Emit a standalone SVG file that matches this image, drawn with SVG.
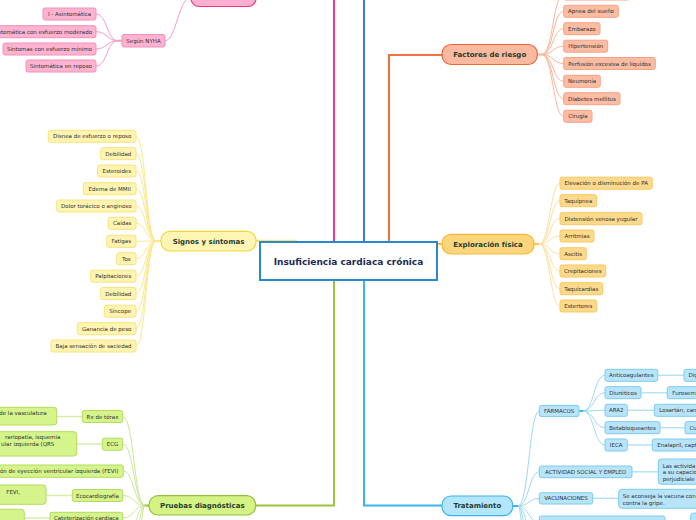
<svg xmlns="http://www.w3.org/2000/svg" width="696" height="520" viewBox="0 0 696 520">
<style>
.s{font-family:"DejaVu Sans",sans-serif;font-size:5.5px;fill:#2e2e2e}
.c{text-anchor:middle}
.m{font-family:"DejaVu Sans",sans-serif;font-weight:bold;font-size:7px;fill:#1e3d2f;text-anchor:middle}
.t{font-family:"DejaVu Sans",sans-serif;font-weight:bold;font-size:9px;fill:#1c2a55;text-anchor:middle}
.pk{fill:#ffb3d1;stroke:#f28fbd;stroke-width:1}
.sa{fill:#fbbca4;stroke:#f7a283;stroke-width:1}
.ye{fill:#fff5b0;stroke:#fbe27e;stroke-width:1}
.or{fill:#fdd98c;stroke:#fbc75e;stroke-width:1}
.bl{fill:#b8e4fa;stroke:#7dcbf0;stroke-width:1}
.gr{fill:#d5f48c;stroke:#b2dc5a;stroke-width:1}
.lk{fill:none;stroke-width:1}
</style>
<rect width="696" height="520" fill="#ffffff"/>
<g id="connectors" fill="none">
  <path d="M334 242 V0" stroke="#f0388a" stroke-width="2"/>
  <path d="M364 242 V0" stroke="#3a7fd5" stroke-width="2"/>
  <path d="M389 242 V55 H442" stroke="#f07040" stroke-width="2"/>
  <path d="M256 240.8 H297" stroke="#fbe27a" stroke-width="2"/>
  <path d="M437 244 H442" stroke="#f6b93b" stroke-width="2"/>
  <path d="M334 280 V505.5 H256" stroke="#9ac43a" stroke-width="2"/>
  <path d="M364 280 V505.5 H442" stroke="#3ab4ea" stroke-width="2"/>
  <g stroke="#f79ac6" class="lk">
    <path d="M165 40.7 C176 40.7 178 0 191 -4"/>
    <path d="M122 40.7 H117" stroke-width="2"/>
    <path d="M118 40.7 C107 40.7 107 14 96 14"/>
    <path d="M118 40.7 C107 40.7 107 31.7 96 31.7"/>
    <path d="M118 40.7 C107 40.7 107 49 96 49"/>
    <path d="M118 40.7 C107 40.7 107 66 96 66"/>
  </g>
  <g stroke="#fbe88e" class="lk">
    <path d="M161 241 H155" stroke-width="2"/>
    <path d="M156 241 C146 241 146 136.3 136 136.3"/>
    <path d="M156 241 C146 241 146 153.7 136 153.7"/>
    <path d="M156 241 C146 241 146 171 136 171"/>
    <path d="M156 241 C146 241 146 188.7 136 188.7"/>
    <path d="M156 241 C146 241 146 206 136 206"/>
    <path d="M156 241 C146 241 146 223.3 136 223.3"/>
    <path d="M156 241 C146 241 146 241.3 136 241.3"/>
    <path d="M156 241 C146 241 146 258.7 136 258.7"/>
    <path d="M156 241 C146 241 146 276.2 136 276.2"/>
    <path d="M156 241 C146 241 146 293.5 136 293.5"/>
    <path d="M156 241 C146 241 146 311.2 136 311.2"/>
    <path d="M156 241 C146 241 146 328.7 136 328.7"/>
    <path d="M156 241 C146 241 146 346 136 346"/>
  </g>
  <g stroke="#fbb59b" class="lk">
    <path d="M537 54.5 H543" stroke-width="2"/>
    <path d="M542 54.5 C553 54.5 553 -6 563.7 -6"/>
    <path d="M542 54.5 C553 54.5 553 11.3 563.7 11.3"/>
    <path d="M542 54.5 C553 54.5 553 28.7 563.7 28.7"/>
    <path d="M542 54.5 C553 54.5 553 46.2 563.7 46.2"/>
    <path d="M542 54.5 C553 54.5 553 63.5 563.7 63.5"/>
    <path d="M542 54.5 C553 54.5 553 81.3 563.7 81.3"/>
    <path d="M542 54.5 C553 54.5 553 98.7 563.7 98.7"/>
    <path d="M542 54.5 C553 54.5 553 116.3 563.7 116.3"/>
  </g>
  <g stroke="#fde1a0" class="lk">
    <path d="M534 244 H540" stroke-width="2" stroke="#fbc75e"/>
    <path d="M539 244 C550 244 550 183.2 560 183.2"/>
    <path d="M539 244 C550 244 550 200.7 560 200.7"/>
    <path d="M539 244 C550 244 550 218.7 560 218.7"/>
    <path d="M539 244 C550 244 550 236 560 236"/>
    <path d="M539 244 C550 244 550 253.7 560 253.7"/>
    <path d="M539 244 C550 244 550 271 560 271"/>
    <path d="M539 244 C550 244 550 288.7 560 288.7"/>
    <path d="M539 244 C550 244 550 306 560 306"/>
  </g>
  <g stroke="#9fd8f4" class="lk">
    <path d="M512.7 506 H519" stroke-width="2" stroke="#3ab4ea"/>
    <path d="M518 506 C529 506 529 411 539.3 411"/>
    <path d="M518 506 C529 506 529 471.8 539.3 471.8"/>
    <path d="M518 506 C529 506 529 498.3 539.3 498.3"/>
    <path d="M518 506 C529 506 529 523 539.3 523"/>
    <path d="M518 506 C527 506 527 545 539.3 545"/>
    <path d="M518 506 C525 506 525 570 539.3 570"/>
    <path d="M518 506 C523 506 523 600 539.3 600"/>
    <path d="M579 411 H584" stroke-width="2" stroke="#3ab4ea"/>
    <path d="M583 411 C594 411 594 375.3 605 375.3"/>
    <path d="M583 411 C594 411 594 392.7 605 392.7"/>
    <path d="M583 411 C594 411 594 410.3 605 410.3"/>
    <path d="M583 411 C594 411 594 427.7 605 427.7"/>
    <path d="M583 411 C594 411 594 445 605 445"/>
    <path d="M657.7 375.3 H684" stroke-width="1.5" stroke="#b6e2f8"/>
    <path d="M641 392.7 H667.3" stroke-width="1.5" stroke="#b6e2f8"/>
    <path d="M627.3 410.3 H654.3" stroke-width="1.5" stroke="#b6e2f8"/>
    <path d="M660 427.7 H685" stroke-width="1.5" stroke="#b6e2f8"/>
    <path d="M627.3 445 H652.3" stroke-width="1.5" stroke="#b6e2f8"/>
    <path d="M632 471.8 H658.3" stroke-width="1.5" stroke="#b6e2f8"/>
    <path d="M592.7 498.3 H618.7" stroke-width="1.5" stroke="#b6e2f8"/>
  </g>
  <g stroke="#cce69a" class="lk">
    <path d="M149 505.5 H144" stroke-width="2" stroke="#9ac43a"/>
    <path d="M145 505.5 C134 505.5 134 416.5 122.7 416.5"/>
    <path d="M145 505.5 C134 505.5 134 444 122.7 444"/>
    <path d="M145 505.5 C134 505.5 134 471 123.3 471"/>
    <path d="M145 505.5 C134 505.5 134 495.5 122.7 495.5"/>
    <path d="M145 505.5 C134 505.5 134 518 122.7 518"/>
    <path d="M145 505.5 C136 505.5 136 540 122.7 540"/>
    <path d="M145 505.5 C138 505.5 138 565 122.7 565"/>
    <path d="M145 505.5 C140 505.5 140 595 122.7 595"/>
    <path d="M82.3 416.5 H56.7" stroke-width="1.5" stroke="#d8ecaa"/>
    <path d="M102.3 444 H76.7" stroke-width="1.5" stroke="#d8ecaa"/>
    <path d="M72.3 495.5 H46" stroke-width="1.5" stroke="#d8ecaa"/>
    <path d="M50 518 H24.3" stroke-width="1.5" stroke="#d8ecaa"/>
  </g>
</g>
<g id="center">
  <rect x="260" y="242" width="177" height="38" fill="#ffffff" stroke="#2a88cf" stroke-width="2"/>
  <text class="t" x="348.5" y="265">Insuficiencia cardiaca crónica</text>
</g>
<g id="pink-branch">
  <rect x="191" y="-14" width="65" height="20.5" rx="8" fill="#ffb0d0" stroke="#f0388a" stroke-width="1.2"/>
  <g id="segun-nyha"><rect class="pk" x="122" y="34.5" width="43" height="12.5" rx="2"/><text class="s c" x="143.5" y="42.7">Según NYHA</text></g>
  <g id="nyha-1"><rect class="pk" x="43" y="8" width="53" height="12" rx="2"/><text class="s c" x="69.5" y="16">I - Asintomática</text></g>
  <g id="nyha-2"><rect class="pk" x="-14" y="25.7" width="110" height="12" rx="2"/><text class="s" x="92" y="33.7" text-anchor="end">Sintomática con esfuerzo moderado</text></g>
  <g id="nyha-3"><rect class="pk" x="3" y="43" width="93" height="12" rx="2"/><text class="s c" x="49.5" y="51">Síntomas con esfuerzo mínimo</text></g>
  <g id="nyha-4"><rect class="pk" x="26" y="60" width="70" height="12" rx="2"/><text class="s c" x="61" y="68">Sintomática en reposo</text></g>
</g>
<g id="signos">
  <rect x="161" y="231.3" width="95" height="19.7" rx="9" fill="#fff6b5" stroke="#f3d63a" stroke-width="1.2"/>
  <text class="m" x="208.5" y="243.6">Signos y síntomas</text>
  <g id="sg1"><rect class="ye" x="48.3" y="130.3" width="87.7" height="12" rx="2"/><text class="s c" x="92.2" y="138.3">Disnea de esfuerzo o reposo</text></g>
  <g id="sg2"><rect class="ye" x="100.7" y="147.7" width="35.3" height="12" rx="2"/><text class="s c" x="118.3" y="155.7">Debilidad</text></g>
  <g id="sg3"><rect class="ye" x="97.7" y="165" width="38.3" height="12" rx="2"/><text class="s c" x="116.8" y="173">Esteroides</text></g>
  <g id="sg4"><rect class="ye" x="83.3" y="182.7" width="52.7" height="12" rx="2"/><text class="s c" x="109.7" y="190.7">Edema de MMII</text></g>
  <g id="sg5"><rect class="ye" x="56.7" y="200" width="79.3" height="12" rx="2"/><text class="s c" x="96.3" y="208">Dolor torácico o anginoso</text></g>
  <g id="sg6"><rect class="ye" x="108.3" y="217.3" width="27.7" height="12" rx="2"/><text class="s c" x="122.2" y="225.3">Caídas</text></g>
  <g id="sg7"><rect class="ye" x="106.7" y="235.3" width="29.3" height="12" rx="2"/><text class="s c" x="121.3" y="243.3">Fatigas</text></g>
  <g id="sg8"><rect class="ye" x="116.7" y="252.7" width="19.3" height="12" rx="2"/><text class="s c" x="126.3" y="260.7">Tos</text></g>
  <g id="sg9"><rect class="ye" x="90.7" y="270.2" width="45.3" height="12" rx="2"/><text class="s c" x="113.3" y="278.2">Palpitaciones</text></g>
  <g id="sg10"><rect class="ye" x="100.7" y="287.5" width="35.3" height="12" rx="2"/><text class="s c" x="118.3" y="295.5">Debilidad</text></g>
  <g id="sg11"><rect class="ye" x="104.3" y="305.2" width="31.7" height="12" rx="2"/><text class="s c" x="120.2" y="313.2">Síncope</text></g>
  <g id="sg12"><rect class="ye" x="77.3" y="322.7" width="58.7" height="12" rx="2"/><text class="s c" x="106.7" y="330.7">Ganancia de peso</text></g>
  <g id="sg13"><rect class="ye" x="51" y="340" width="85" height="12" rx="2"/><text class="s c" x="93.5" y="348">Baja sensación de saciedad</text></g>
</g>
<g id="factores">
  <rect x="442" y="44.5" width="95.3" height="20" rx="9" fill="#fbb9a0" stroke="#f0643a" stroke-width="1.2"/>
  <text class="m" x="489.7" y="57">Factores de riesgo</text>
  <g id="fr0"><rect class="sa" x="563.7" y="-12" width="66" height="12" rx="2"/></g>
  <g id="fr1"><rect class="sa" x="563.7" y="5.3" width="54.6" height="12" rx="2"/><text class="s c" x="591" y="13.3">Apnea del sueño</text></g>
  <g id="fr2"><rect class="sa" x="563.7" y="22.7" width="36.3" height="12" rx="2"/><text class="s c" x="581.9" y="30.7">Embarazo</text></g>
  <g id="fr3"><rect class="sa" x="563.7" y="40.2" width="44" height="12" rx="2"/><text class="s c" x="585.7" y="48.2">Hipertensión</text></g>
  <g id="fr4"><rect class="sa" x="563.7" y="57.5" width="91.6" height="12" rx="2"/><text class="s c" x="609.5" y="65.5">Perfusión excesiva de líquidos</text></g>
  <g id="fr5"><rect class="sa" x="563.7" y="75.3" width="36.6" height="12" rx="2"/><text class="s c" x="582" y="83.3">Neumonía</text></g>
  <g id="fr6"><rect class="sa" x="563.7" y="92.7" width="56.3" height="12" rx="2"/><text class="s c" x="591.9" y="100.7">Diabetes mellitus</text></g>
  <g id="fr7"><rect class="sa" x="563.7" y="110.3" width="28.3" height="12" rx="2"/><text class="s c" x="577.9" y="118.3">Cirugía</text></g>
</g>
<g id="exploracion">
  <rect x="442" y="234.3" width="92" height="19.7" rx="9" fill="#fdd57c" stroke="#f6b93b" stroke-width="1.2"/>
  <text class="m" x="488" y="246.6">Exploración física</text>
  <g id="ex1"><rect class="or" x="560" y="177.2" width="92.3" height="12" rx="2"/><text class="s c" x="606.2" y="185.2">Elevación o disminución de PA</text></g>
  <g id="ex2"><rect class="or" x="560" y="194.7" width="36.7" height="12" rx="2"/><text class="s c" x="578.3" y="202.7">Taquipnea</text></g>
  <g id="ex3"><rect class="or" x="560" y="212.7" width="82" height="12" rx="2"/><text class="s c" x="601" y="220.7">Distensión venosa yugular</text></g>
  <g id="ex4"><rect class="or" x="560" y="230" width="34" height="12" rx="2"/><text class="s c" x="577" y="238">Arritmias</text></g>
  <g id="ex5"><rect class="or" x="560" y="247.7" width="26.3" height="12" rx="2"/><text class="s c" x="573.2" y="255.7">Ascitis</text></g>
  <g id="ex6"><rect class="or" x="560" y="265" width="45.7" height="12" rx="2"/><text class="s c" x="582.8" y="273">Crepitaciones</text></g>
  <g id="ex7"><rect class="or" x="560" y="282.7" width="42.7" height="12" rx="2"/><text class="s c" x="581.3" y="290.7">Taquicardias</text></g>
  <g id="ex8"><rect class="or" x="560" y="300" width="36.7" height="12" rx="2"/><text class="s c" x="578.3" y="308">Estertores</text></g>
</g>
<g id="tratamiento">
  <rect x="442" y="496" width="70.7" height="19.7" rx="9" fill="#b3e5fc" stroke="#3ab4ea" stroke-width="1.2"/>
  <text class="m" x="477.3" y="508.4">Tratamiento</text>
  <g id="farmacos"><rect class="bl" x="539.3" y="405.5" width="39.7" height="11" rx="2"/><text class="s c" x="559.2" y="413">FÁRMACOS</text></g>
  <g id="f1"><rect class="bl" x="605" y="369.3" width="52.7" height="12" rx="2"/><text class="s c" x="631.3" y="377.3">Anticoagulantes</text></g>
  <g id="f1a"><rect class="bl" x="684" y="369.3" width="20" height="12" rx="2"/><text class="s" x="688.5" y="377.3">Dig</text></g>
  <g id="f2"><rect class="bl" x="605" y="386.7" width="36" height="12" rx="2"/><text class="s c" x="623" y="394.7">Diuréticos</text></g>
  <g id="f2a"><rect class="bl" x="667.3" y="386.7" width="40" height="12" rx="2"/><text class="s" x="672.3" y="394.7">Furosem</text></g>
  <g id="f3"><rect class="bl" x="605" y="404.3" width="22.3" height="12" rx="2"/><text class="s c" x="616.2" y="412.3">ARA2</text></g>
  <g id="f3a"><rect class="bl" x="654.3" y="404.3" width="50" height="12" rx="2"/><text class="s" x="659.3" y="412.3">Losartán, can</text></g>
  <g id="f4"><rect class="bl" x="605" y="421.7" width="55" height="12" rx="2"/><text class="s c" x="632.5" y="429.7">Betabloqueantes</text></g>
  <g id="f4a"><rect class="bl" x="685" y="421.7" width="20" height="12" rx="2"/><text class="s" x="689.5" y="429.7">Cu</text></g>
  <g id="f5"><rect class="bl" x="605" y="439" width="22.3" height="12" rx="2"/><text class="s c" x="616.2" y="447">IECA</text></g>
  <g id="f5a"><rect class="bl" x="652.3" y="439" width="50" height="12" rx="2"/><text class="s" x="657.3" y="447">Enalapril, capt</text></g>
  <g id="actividad"><rect class="bl" x="539.3" y="466" width="92.7" height="11.7" rx="2"/><text class="s c" x="585.6" y="473.8">ACTIVIDAD SOCIAL Y EMPLEO</text></g>
  <g id="actividad-a"><rect class="bl" x="658.3" y="459" width="50" height="25.3" rx="3"/><text class="s" x="662.7" y="468">Las activida</text><text class="s" x="662.7" y="474.3">a su capacid</text><text class="s" x="662.7" y="480.5">perjudiciale</text></g>
  <g id="vacunaciones"><rect class="bl" x="539.3" y="492.7" width="53.4" height="11.3" rx="2"/><text class="s c" x="566" y="500.3">VACUNACIONES</text></g>
  <g id="vacunaciones-a"><rect class="bl" x="618.7" y="489.3" width="90" height="19" rx="3"/><text class="s" x="622.7" y="498">Se aconseja la vacuna con</text><text class="s" x="622.7" y="505">contra la gripe.</text></g>
  <g id="t4"><rect class="bl" x="539.3" y="516" width="125.7" height="14" rx="2"/></g>
  <g id="t4a"><rect class="bl" x="690.7" y="513" width="20" height="14" rx="3"/></g>
</g>
<g id="pruebas">
  <rect x="149" y="495.7" width="106.7" height="19.3" rx="9" fill="#d5f285" stroke="#8dc43c" stroke-width="1.2"/>
  <text class="m" x="202.3" y="507.8">Pruebas diagnósticas</text>
  <g id="p1"><rect class="gr" x="82.3" y="410.5" width="40.4" height="12" rx="2"/><text class="s c" x="102.5" y="418.5">Rx de tórax</text></g>
  <g id="p1a"><rect class="gr" x="-20" y="407.3" width="76.7" height="17.7" rx="3"/><text class="s" x="46.7" y="415.3" text-anchor="end">de la vasculatura</text></g>
  <g id="p2"><rect class="gr" x="102.3" y="438.2" width="20.4" height="12" rx="2"/><text class="s c" x="112.5" y="446.2">ECG</text></g>
  <g id="p2a"><rect class="gr" x="-20" y="431.7" width="96.7" height="24.3" rx="3"/><text class="s" x="60.3" y="439.3" text-anchor="end">rariopatía, isquemia</text><text class="s" x="54.3" y="446" text-anchor="end">ular izquierda (QRS</text></g>
  <g id="p3"><rect class="gr" x="-20" y="465" width="143.3" height="12.3" rx="2"/><text class="s" x="118.3" y="473.2" text-anchor="end">ón de eyección ventricular izquierda (FEVI)</text></g>
  <g id="p4"><rect class="gr" x="72.3" y="489.5" width="50.4" height="12" rx="2"/><text class="s c" x="97.5" y="497.5">Ecocardiografía</text></g>
  <g id="p4a"><rect class="gr" x="-20" y="485" width="66" height="19.3" rx="3"/><text class="s" x="20" y="494.3" text-anchor="end">FEVI,</text></g>
  <g id="p5"><rect class="gr" x="50" y="512.3" width="72.7" height="12" rx="2"/><text class="s c" x="86.3" y="520.3">Cateterización cardiaca</text></g>
  <g id="p5a"><rect class="gr" x="-20" y="509.3" width="44.3" height="20" rx="3"/></g>
</g>
</svg>
